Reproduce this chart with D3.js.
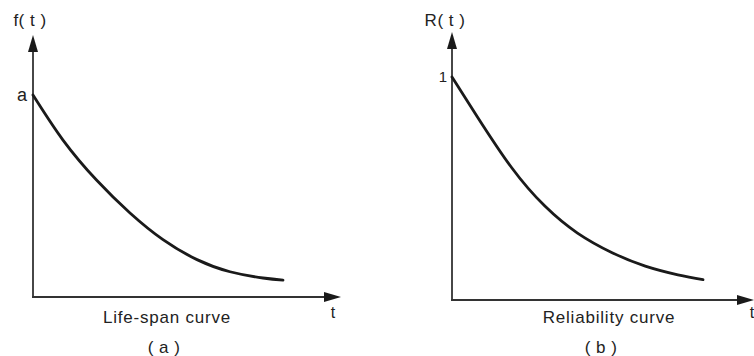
<!DOCTYPE html>
<html>
<head>
<meta charset="utf-8">
<script src="https://cdn.jsdelivr.net/npm/d3@7"></script>
<style>
  html, body { margin: 0; padding: 0; background: #ffffff; }
  svg { display: block; }
  text { font-family: "Liberation Sans", Arial, sans-serif; fill: #222222; }
</style>
</head>
<body>
<svg id="chart" width="754" height="356"></svg>
<script>
// ---- data ----
const lifeSpanTimes  = [0, 0.6, 1.27, 1.94, 2.6, 3.28, 3.94, 4.6, 5];
const lifeSpanValues = [1, 0.777, 0.579, 0.416, 0.284, 0.185, 0.125, 0.094, 0.084];
const reliabilityTimes  = [0, 0.51, 1.19, 1.85, 2.5, 3.19, 3.85, 4.5, 5];
const reliabilityValues = [1, 0.82, 0.593, 0.421, 0.3, 0.212, 0.152, 0.113, 0.091];
const yTickValues = [1];
const yTickLabelsA = ["a"];
const yTickLabelsB = ["1"];
const yAxisTitles = ["f( t )", "R( t )"];
const xAxisTitle = "t";
const curveNames = ["Life-span curve", "Reliability curve"];
const panelLabels = ["( a )", "( b )"];

const svg = d3.select("#chart");

const panels = [
  { times: lifeSpanTimes, values: lifeSpanValues, ticks: yTickLabelsA, yTitle: yAxisTitles[0], name: curveNames[0], label: panelLabels[0],
    x0: 33, x1: 283, xTip: 341, y0: 297, y1: 95, yTip: 35, titleX: 30, nameX: 167, labelX: 164, tX: 333, tickPad: 6, tickSize: 18 },
  { times: reliabilityTimes, values: reliabilityValues, ticks: yTickLabelsB, yTitle: yAxisTitles[1], name: curveNames[1], label: panelLabels[1],
    x0: 452, x1: 703, xTip: 754, y0: 300, y1: 77, yTip: 32, titleX: 445, nameX: 609, labelX: 601, tX: 752, tickPad: 5, tickSize: 15 }
];

const axisColor = "#333333";
const curveColor = "#1a1a1a";

panels.forEach(p => {
  const g = svg.append("g");
  const x = d3.scaleLinear().domain([0, 5]).range([p.x0, p.x1]);
  const y = d3.scaleLinear().domain([0, 1]).range([p.y0, p.y1]);

  // axis lines
  g.append("line").attr("x1", p.x0).attr("y1", p.y0 + 1).attr("x2", p.x0).attr("y2", p.yTip + 10)
    .attr("stroke", axisColor).attr("stroke-width", 1.8);
  g.append("line").attr("x1", p.x0 - 1).attr("y1", p.y0).attr("x2", p.xTip - 10).attr("y2", p.y0)
    .attr("stroke", axisColor).attr("stroke-width", 1.8);

  // arrowheads
  g.append("path")
    .attr("d", `M${p.x0},${p.yTip} L${p.x0 - 5},${p.yTip + 17} L${p.x0 + 5},${p.yTip + 17} Z`)
    .attr("fill", "#1a1a1a");
  g.append("path")
    .attr("d", `M${p.xTip},${p.y0} L${p.xTip - 17},${p.y0 - 5} L${p.xTip - 17},${p.y0 + 5} Z`)
    .attr("fill", "#1a1a1a");

  // y tick label via d3 axis
  const yAxis = d3.axisLeft(y).tickValues(yTickValues).tickSize(0).tickPadding(p.tickPad)
    .tickFormat((d, i) => p.ticks[i]);
  const ag = g.append("g").attr("transform", `translate(${p.x0},0)`).call(yAxis);
  ag.select(".domain").remove();
  ag.selectAll("text").attr("font-size", p.tickSize).attr("fill", "#222222")
    .style("font-family", "'Liberation Sans', Arial, sans-serif");

  // curve
  const line = d3.line()
    .x((d, i) => x(p.times[i]))
    .y(d => y(d))
    .curve(d3.curveNatural);
  g.append("path").datum(p.values).attr("d", line)
    .attr("fill", "none").attr("stroke", curveColor).attr("stroke-width", 2.8)
    .attr("stroke-linecap", "round");

  // texts
  g.append("text").attr("x", p.titleX).attr("y", 26).attr("text-anchor", "middle")
    .attr("font-size", 17).attr("letter-spacing", 0.5).text(p.yTitle);
  g.append("text").attr("x", p.tX).attr("y", 318).attr("text-anchor", "middle")
    .attr("font-size", 16).text(xAxisTitle);
  g.append("text").attr("x", p.nameX).attr("y", 323).attr("text-anchor", "middle")
    .attr("font-size", 17).attr("letter-spacing", 0.8).text(p.name);
  g.append("text").attr("x", p.labelX).attr("y", 353).attr("text-anchor", "middle")
    .attr("font-size", 17).attr("letter-spacing", 0.5).text(p.label);
});
</script>
</body>
</html>
